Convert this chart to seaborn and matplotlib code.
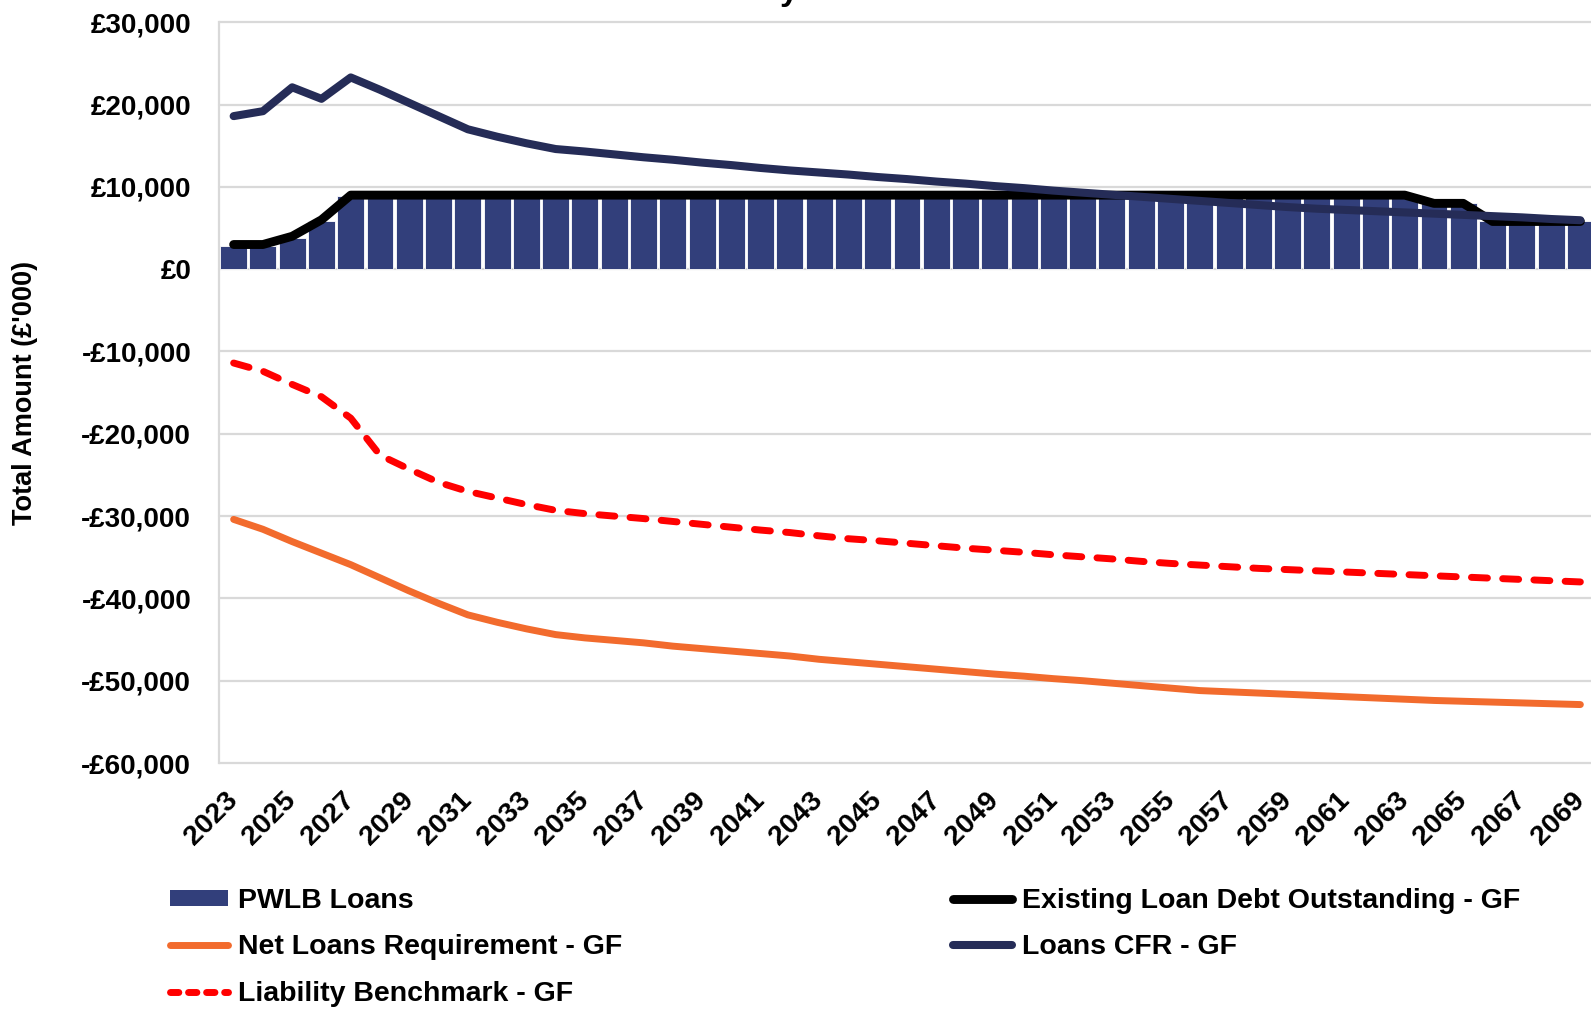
import matplotlib
matplotlib.use("Agg")
import matplotlib.pyplot as plt
import matplotlib.transforms as mtransforms
import seaborn as sns
import numpy as np
import pandas as pd
from matplotlib.patches import Patch
from matplotlib.lines import Line2D
from matplotlib.ticker import FuncFormatter

# ---------------- data ----------------
years = [2023, 2024, 2025, 2026, 2027, 2028, 2029, 2030, 2031, 2032,
         2033, 2034, 2035, 2036, 2037, 2038, 2039, 2040, 2041, 2042,
         2043, 2044, 2045, 2046, 2047, 2048, 2049, 2050, 2051, 2052,
         2053, 2054, 2055, 2056, 2057, 2058, 2059, 2060, 2061, 2062,
         2063, 2064, 2065, 2066, 2067, 2068, 2069]

pwlb_loans = [2800, 2800, 3800, 5800, 8900, 9000, 9000, 9000, 9000, 9000,
              9000, 9000, 9000, 9000, 9000, 9000, 9000, 9000, 9000, 9000,
              9000, 9000, 9000, 9000, 9000, 9000, 9000, 9000, 9000, 9000,
              9000, 9000, 9000, 9000, 9000, 9000, 9000, 9000, 9000, 9000,
              9000, 8000, 8000, 5900, 5900, 5900, 5900]

existing_debt = [3000, 3000, 4000, 6000, 9000, 9000, 9000, 9000, 9000, 9000,
                 9000, 9000, 9000, 9000, 9000, 9000, 9000, 9000, 9000, 9000,
                 9000, 9000, 9000, 9000, 9000, 9000, 9000, 9000, 9000, 9000,
                 9000, 9000, 9000, 9000, 9000, 9000, 9000, 9000, 9000, 9000,
                 9000, 8000, 8000, 5800, 5800, 5800, 5800]

net_loans_req = [-30400, -31600, -33100, -34500, -35900, -37500, -39100, -40600, -42000, -42900,
                 -43700, -44400, -44800, -45100, -45400, -45800, -46100, -46400, -46700, -47000,
                 -47400, -47700, -48000, -48300, -48600, -48900, -49200, -49450, -49750, -50000,
                 -50300, -50600, -50900, -51200, -51350, -51500, -51650, -51800, -51950, -52100,
                 -52250, -52400, -52500, -52600, -52700, -52800, -52900]

liability_bench = [-11400, -12400, -14000, -15500, -18100, -22600, -24300, -25900, -27000, -27800,
                   -28600, -29300, -29700, -30000, -30300, -30650, -31000, -31350, -31700, -32000,
                   -32400, -32750, -33000, -33300, -33600, -33900, -34150, -34400, -34700, -34950,
                   -35200, -35500, -35750, -35950, -36150, -36350, -36500, -36650, -36800, -36950,
                   -37100, -37250, -37400, -37550, -37700, -37850, -38000]

loans_cfr = [18600, 19200, 22100, 20700, 23300, 21800, 20200, 18600, 17000, 16100,
             15300, 14600, 14300, 13950, 13600, 13300, 12950, 12650, 12300, 12000,
             11750, 11500, 11200, 10950, 10650, 10400, 10100, 9850, 9550, 9300,
             9050, 8800, 8550, 8300, 8050, 7800, 7550, 7350, 7200, 7050,
             6900, 6750, 6600, 6450, 6300, 6100, 5950]

y_ticks = [30000, 20000, 10000, 0, -10000, -20000, -30000, -40000, -50000, -60000]

df = pd.DataFrame({
    "year": [str(y) for y in years],
    "pos": np.arange(len(years)),
    "pwlb": pwlb_loans,
    "existing": existing_debt,
    "net": net_loans_req,
    "bench": liability_bench,
    "cfr": loans_cfr,
})

# ---------------- style ----------------
sns.set_theme(style="white")
plt.rcParams["font.family"] = ["Liberation Sans", "DejaVu Sans"]
plt.rcParams["font.weight"] = "bold"
plt.rcParams["text.color"] = "black"
plt.rcParams["axes.labelcolor"] = "black"
plt.rcParams["xtick.color"] = "black"
plt.rcParams["ytick.color"] = "black"

BAR = "#323F7B"
CFR = "#252C57"
ORANGE = "#F26B2D"
RED = "#FF0000"
GRID = "#D9D9D9"
FS = 20.5

W, H = 1591, 1010
fig = plt.figure(figsize=(W / 100, H / 100), dpi=100)
left, right, top, bottom = 219, 1595, 22.3, 763
ax = fig.add_axes([left / W, (H - bottom) / H, (right - left) / W, (bottom - top) / H])

sns.barplot(data=df, x="year", y="pwlb", color=BAR, width=0.92, saturation=1,
            edgecolor="white", linewidth=0.6, ax=ax, zorder=2)

sns.lineplot(data=df, x="pos", y="existing", color="black", linewidth=6.4,
             ax=ax, zorder=3, solid_capstyle="round", solid_joinstyle="round")
sns.lineplot(data=df, x="pos", y="net", color=ORANGE, linewidth=5.0,
             ax=ax, zorder=3, solid_capstyle="round", solid_joinstyle="round")
bench_line = sns.lineplot(data=df, x="pos", y="bench", color=RED, linewidth=5.0,
                          ax=ax, zorder=3)
bench_line.get_lines()[-1].set_dashes((2.3, 2.2))
bench_line.get_lines()[-1].set_dash_capstyle("round")
sns.lineplot(data=df, x="pos", y="cfr", color=CFR, linewidth=5.8,
             ax=ax, zorder=4, solid_capstyle="round", solid_joinstyle="round")

ax.set_xlim(-0.5, len(years) - 0.5)
ax.set_ylim(-60000, 30000)
ax.set_yticks(y_ticks)
ax.yaxis.set_major_formatter(FuncFormatter(
    lambda v, p: ("-£{:,.0f}".format(-v) if v < 0 else "£{:,.0f}".format(v))))

tick_pos = list(range(0, len(years), 2))
ax.set_xticks(tick_pos)
ax.set_xticklabels([str(years[i]) for i in tick_pos], rotation=45, ha="right",
                   va="center", rotation_mode="anchor", fontsize=FS, fontweight="bold",
                   color="black")
shift = mtransforms.ScaledTranslation(0.09, 0, fig.dpi_scale_trans)
for lbl in ax.get_xticklabels():
    lbl.set_transform(lbl.get_transform() + shift)
for lbl in ax.get_yticklabels():
    lbl.set_fontsize(FS - 0.5)
    lbl.set_fontweight("bold")
    lbl.set_color("black")
ax.tick_params(axis="y", length=0, pad=20)
ax.tick_params(axis="x", length=0, pad=24)

ax.set_xlabel("")
ax.set_ylabel("Total Amount (£'000)", fontsize=19.5, fontweight="bold", color="black")
ax.yaxis.set_label_coords(-(left - 38) / (right - left), 0.5)

ax.grid(axis="y", color=GRID, linewidth=1.6, zorder=0)
ax.set_axisbelow(True)
for gl in ax.get_ygridlines():
    gl.set_clip_on(False)
for s in ["top", "right", "bottom"]:
    ax.spines[s].set_visible(False)
ax.spines["left"].set_color(GRID)
ax.spines["left"].set_linewidth(1.6)

# title, cropped at the top edge as in the reference (only the descender shows)
fig.text(672 / W, 1.0, "Liability Benchmark", ha="left", va="baseline",
         fontsize=24, fontweight="bold", color="black")

handles = [
    Patch(facecolor=BAR, edgecolor="none"),
    Line2D([0], [0], color=ORANGE, linewidth=5.0, solid_capstyle="round"),
    Line2D([0], [0], color=RED, linewidth=5.0, dashes=(1.2, 1.4), dash_capstyle="round"),
    Line2D([0], [0], color="black", linewidth=6.4, solid_capstyle="round"),
    Line2D([0], [0], color=CFR, linewidth=5.8, solid_capstyle="round"),
]
labels = ["PWLB Loans", "Net Loans Requirement - GF", "Liability Benchmark - GF",
          "Existing Loan Debt Outstanding - GF", "Loans CFR - GF"]
fig.legend(handles, labels, ncol=2, loc="upper left",
           bbox_to_anchor=(170 / W, (H - 888) / H), frameon=False,
           prop={"size": FS, "weight": "bold"}, handlelength=2.05,
           handletextpad=0.35, columnspacing=11.62, labelspacing=0.72,
           borderpad=0, borderaxespad=0, handleheight=0.5, labelcolor="black")

fig.savefig("out.png", dpi=100)
